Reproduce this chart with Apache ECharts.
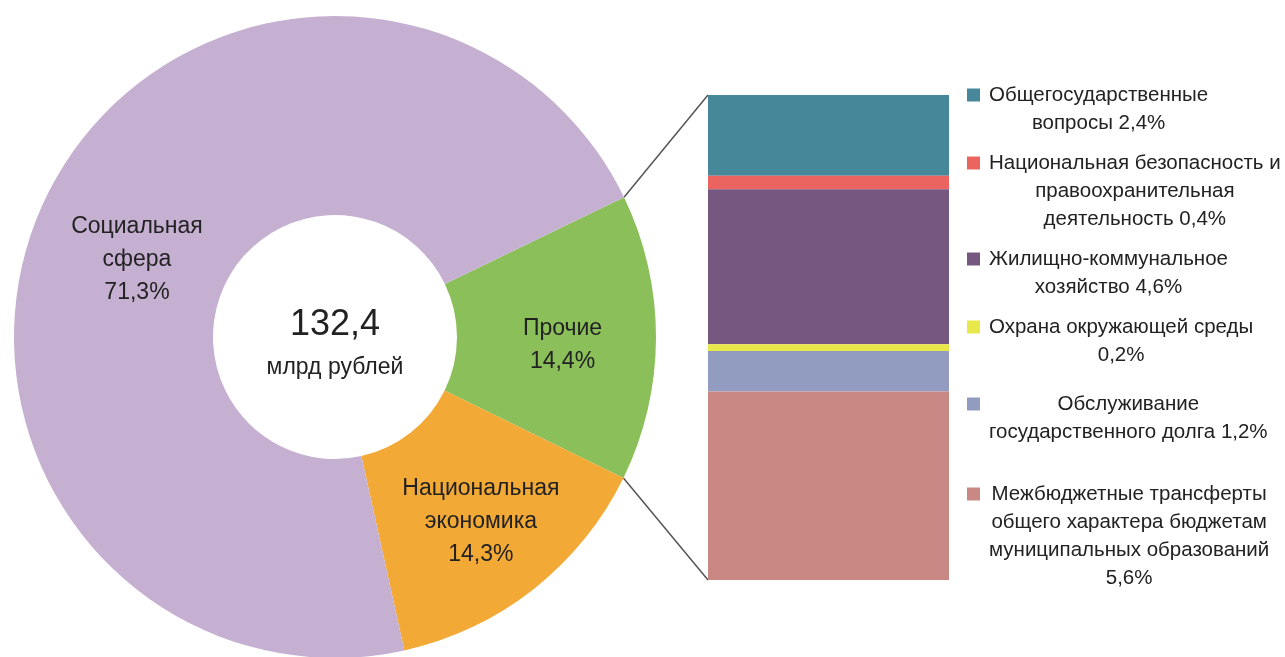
<!DOCTYPE html>
<html><head><meta charset="utf-8">
<script src="https://cdn.jsdelivr.net/npm/echarts@6/dist/echarts.min.js"></script>
<style>html,body{margin:0;padding:0;background:#fff}#c{width:1285px;height:657px}</style>
</head><body><div id="c"></div>
<script>
// ---- data ----
const pieNames = ['Прочие', 'Национальная\nэкономика', 'Социальная\nсфера'];
const pieValues = [14.4, 14.3, 71.3];
const pieColors = ['#8BBF5A', '#F2A935', '#C6B0D1'];

const totalValue = '132,4';
const totalUnit = 'млрд рублей';

const barNames = [
  'Общегосударственные\nвопросы',
  'Национальная безопасность и\nправоохранительная\nдеятельность',
  'Жилищно-коммунальное\nхозяйство',
  'Охрана окружающей среды',
  'Обслуживание\nгосударственного долга',
  'Межбюджетные трансферты\nобщего характера бюджетам\nмуниципальных образований'
];
const barValueSep = [' ', ' ', ' ', '\n', ' ', '\n'];
const barValues = [2.4, 0.4, 4.6, 0.2, 1.2, 5.6];
const barColors = ['#46889A', '#EC6460', '#75577F', '#E9E84A', '#929CC0', '#C98884'];

// ---- styling ----
const FONT = '"Liberation Sans", Arial, sans-serif';
const NARROW = '"Liberation Sans Narrow", "Liberation Sans", Arial, sans-serif';
const TXT = '#222222';
const pieCenter = [335, 337];
const pieRadius = [122, 321];
const startAngle = 25.8;
const pieLabelOffsets = [[3, 8], [7, 8], [4, 21]];
const legendPad = [0, 0, 0, 0, 9, 22];

function fmt(v) { return v.toFixed(1).replace('.', ',') + '%'; }

const rich = {
  sp: { width: 22, height: 13, lineHeight: 28 },
  g: { width: 9, height: 13, lineHeight: 28 },
  t: { align: 'center', fontSize: 20.5, lineHeight: 28, color: TXT, fontFamily: FONT }
};
barColors.forEach((c, i) => {
  rich['sq' + i] = { width: 13, height: 13, lineHeight: 28, backgroundColor: c };
});

const barTotal = barValues.reduce((a, b) => a + b, 0);
const pieTotal = pieValues.reduce((a, b) => a + b, 0);

const chart = echarts.init(document.getElementById('c'), null, { renderer: 'canvas' });

chart.setOption({
  animation: false,
  backgroundColor: '#ffffff',
  title: {
    text: totalValue,
    subtext: totalUnit,
    left: pieCenter[0],
    textAlign: 'center',
    top: 305,
    padding: 0,
    itemGap: 10,
    textStyle: { fontSize: 36, fontWeight: 'normal', lineHeight: 40, color: TXT, fontFamily: NARROW },
    subtextStyle: { fontSize: 23, lineHeight: 26, color: TXT, fontFamily: FONT }
  },
  legend: {
    orient: 'vertical',
    left: 962,
    top: 81,
    padding: 0,
    itemGap: 12,
    icon: 'none',
    itemWidth: 0,
    itemHeight: 0,
    selectedMode: false,
    data: barNames.map((n, i) => ({ name: n, textStyle: { padding: [legendPad[i], 0, 0, 0] } })),
    formatter: function (name) {
      const i = barNames.indexOf(name);
      const lines = (name + barValueSep[i] + fmt(barValues[i])).split('\n');
      return lines.map((l, j) => (j === 0 ? '{sq' + i + '|}{g|}' : '{sp|}') + '{t|' + l + '}').join('\n');
    },
    textStyle: { rich: rich, fontSize: 20.5, lineHeight: 28, color: TXT, fontFamily: FONT }
  },
  grid: { left: 708, top: 95, width: 241, height: 485 },
  xAxis: { type: 'category', data: ['Прочие'], show: false },
  yAxis: { type: 'value', min: 0, max: barTotal, inverse: true, show: false },
  series: [
    {
      type: 'pie',
      center: pieCenter,
      radius: pieRadius,
      startAngle: startAngle,
      clockwise: true,
      silent: true,
      avoidLabelOverlap: false,
      itemStyle: { borderWidth: 0 },
      label: {
        show: true,
        position: 'inside',
        formatter: p => p.name + '\n' + fmt(p.value),
        fontSize: 23,
        lineHeight: 33,
        color: TXT,
        fontFamily: FONT
      },
      labelLine: { show: false },
      emphasis: { disabled: true },
      data: pieNames.map((n, i) => ({
        name: n,
        value: pieValues[i],
        itemStyle: { color: pieColors[i] },
        label: { offset: pieLabelOffsets[i] }
      }))
    }
  ].concat(barNames.map((n, i) => ({
    name: n,
    type: 'bar',
    stack: 'total',
    barWidth: '100%',
    silent: true,
    itemStyle: { color: barColors[i], borderWidth: 0 },
    emphasis: { disabled: true },
    data: [barValues[i]]
  })))
});

// connector lines from the "Прочие" slice edges to the bar ends
const rect = chart.getModel().getComponent('grid').coordinateSystem.getRect();
const yTop = chart.convertToPixel({ yAxisIndex: 0 }, 0);
const yBot = chart.convertToPixel({ yAxisIndex: 0 }, barTotal);
const a0 = startAngle * Math.PI / 180;
const a1 = (startAngle - 360 * pieValues[0] / pieTotal) * Math.PI / 180;
const R = pieRadius[1];
const p0 = [pieCenter[0] + R * Math.cos(a0), pieCenter[1] - R * Math.sin(a0)];
const p1 = [pieCenter[0] + R * Math.cos(a1), pieCenter[1] - R * Math.sin(a1)];
chart.setOption({
  graphic: [
    { type: 'line', silent: true, shape: { x1: p0[0], y1: p0[1], x2: rect.x, y2: yTop }, style: { stroke: '#555555', lineWidth: 1.5 } },
    { type: 'line', silent: true, shape: { x1: p1[0], y1: p1[1], x2: rect.x, y2: yBot }, style: { stroke: '#555555', lineWidth: 1.5 } }
  ]
});
</script>
</body></html>
